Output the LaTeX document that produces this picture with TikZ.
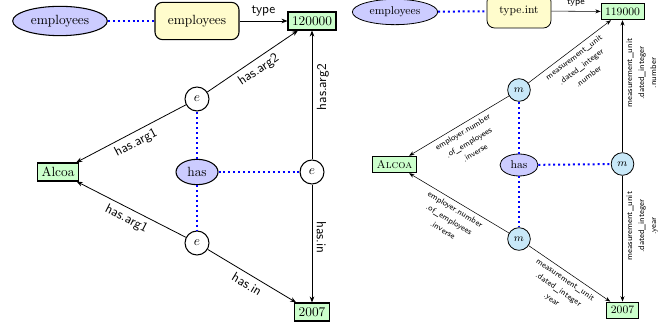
\documentclass[tikz,border=0pt]{standalone}
\usetikzlibrary{shapes.geometric,arrows.meta}
\definecolor{mblue}{RGB}{200,232,248}
\tikzset{
  ellnode/.style={draw,thick,ellipse,fill=blue!20,inner sep=0pt},
  wordbox/.style={draw,thick,rectangle,rounded corners=2mm,fill=yellow!20,inner sep=0pt},
  valbox/.style={draw,thick,rectangle,fill=green!20,inner sep=3pt,minimum height=13.5pt},
  evnode/.style={draw,thick,circle,fill=white,minimum size=18pt,inner sep=0pt},
  mnode/.style={draw,semithick,circle,fill=mblue,minimum size=17pt,inner sep=0pt},
  relarrow/.style={-{Stealth[length=4.5pt,width=3.5pt]},semithick},
  relthin/.style={-{Stealth[length=4pt,width=3pt]},thin},
  blink/.style={blue,line width=1.5pt,dash pattern=on 1.5pt off 2.2pt},
  rellab/.style={font=\sffamily},
  smalllab/.style={font=\fontsize{6.2}{9}\selectfont\sffamily,align=center,inner sep=3pt}
}
\begin{document}
\begin{tikzpicture}[x=0.75pt,y=-0.75pt]
\useasboundingbox (0,0) rectangle (663,327);

\node [ellnode,minimum width=71pt,minimum height=22pt] (empL) at (60,21) {employees};
\node [wordbox,minimum width=63pt,minimum height=28pt] (typeL) at (197,21) {employees};
\node [valbox] (numL) at (312,21) {120000};
\node [evnode] (eTop) at (197,99) {$e$};
\node [valbox] (alcL) at (58,172) {Alcoa};
\node [ellnode,minimum width=31.5pt,minimum height=19pt] (hasL) at (197,172) {has};
\node [evnode] (eRight) at (312,172) {$e$};
\node [evnode] (eBot) at (197,243) {$e$};
\node [valbox] (yrL) at (312,312) {2007};

\draw[blink] (empL) -- (typeL);
\draw[blink] (hasL) -- (eTop);
\draw[blink] (hasL) -- (eBot);
\draw[blink] (hasL) -- (eRight);

\draw[relarrow] (typeL) -- node[above,rellab]{type} (numL);
\draw[relarrow] (eTop) -- node[sloped,below,rellab]{has.arg2} (numL);
\draw[relarrow] (eTop) -- node[sloped,below,rellab]{has.arg1} (alcL);
\draw[relarrow] (eRight) -- node[pos=0.56,rotate=90,anchor=north,rellab]{has.arg2} (numL);
\draw[relarrow] (eRight) -- node[pos=0.45,rotate=-90,anchor=south,rellab]{has.in} (yrL);
\draw[relarrow] (eBot) -- node[sloped,below,rellab]{has.arg1} (alcL);
\draw[relarrow] (eBot) -- node[sloped,below,rellab]{has.in} (yrL);

\begin{scope}[every node/.append style={font=\fontsize{8.5}{10}\selectfont}]
\node [ellnode,semithick,minimum width=64pt,minimum height=19pt] (empR) at (395,12) {employees};
\node [wordbox,semithick,minimum width=48pt,minimum height=25.5pt] (typeR) at (519,11) {type.int};
\node [valbox,semithick,minimum height=12.5pt] (numR) at (622.5,11.5) {119000};
\node [mnode] (mTop) at (519,90) {$m$};
\node [valbox,semithick,minimum height=12.5pt] (alcR) at (394.5,164.5) {\textsc{Alcoa}};
\node [ellnode,semithick,minimum width=28.5pt,minimum height=16.5pt] (hasR) at (519,165) {has};
\node [mnode] (mRight) at (622.5,164) {$m$};
\node [mnode] (mBot) at (519,239) {$m$};
\node [valbox,semithick,minimum height=12pt] (yrR) at (622.5,310) {2007};
\end{scope}

\draw[blink] (empR) -- (typeR);
\draw[blink] (hasR) -- (mTop);
\draw[blink] (hasR) -- (mBot);
\draw[blink] (hasR) -- (mRight);

\draw[relthin] (typeR) -- node[above,font=\fontsize{7}{8}\selectfont\sffamily]{type} (numR);
\draw[relthin] (mTop) -- node[sloped,below,smalllab]{measurement\_unit\\.dated\_integer\\.number} (numR);
\draw[relthin] (mTop) -- node[sloped,below,smalllab]{employer.number\\.of\_employees\\.inverse} (alcR);
\draw[relthin] (mRight) -- node[pos=0.6,rotate=90,anchor=north,smalllab]{measurement\_unit\\.dated\_integer\\.number} (numR);
\draw[relthin] (mRight) -- node[pos=0.4,rotate=90,anchor=north,smalllab]{measurement\_unit\\.dated\_integer\\.year} (yrR);
\draw[relthin] (mBot) -- node[sloped,below,smalllab]{employer.number\\.of\_employees\\.inverse} (alcR);
\draw[relthin] (mBot) -- node[sloped,below,smalllab]{measurement\_unit\\.dated\_integer\\.year} (yrR);

\end{tikzpicture}
\end{document}
